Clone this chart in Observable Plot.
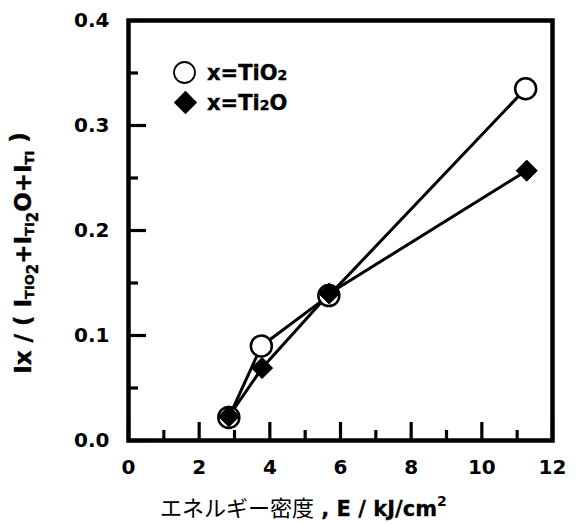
<!DOCTYPE html>
<html><head><meta charset="utf-8">
<script src="https://cdn.jsdelivr.net/npm/d3@7"></script>
<script src="https://cdn.jsdelivr.net/npm/@observablehq/plot@0.6"></script>
<style>body{margin:0;background:#fff}</style>
</head><body><div id="chart"></div>
<script>
const energyTiO2 = [2.84, 3.76, 5.67, 11.24];
const valueTiO2  = [0.022, 0.090, 0.138, 0.335];
const energyTi2O = [2.84, 3.78, 5.68, 11.27];
const valueTi2O  = [0.023, 0.069, 0.140, 0.257];
const xTicks = [0, 2, 4, 6, 8, 10, 12];
const xMinor = [1, 3, 5, 7, 9, 11];
const yTicks = [0, 0.1, 0.2, 0.3, 0.4];
const yMinor = [0.05, 0.15, 0.25, 0.35];

const tio2 = energyTiO2.map((e, i) => ({e, v: valueTiO2[i]}));
const ti2o = energyTi2O.map((e, i) => ({e, v: valueTi2O[i]}));

const boldFont = "DejaVu Sans, Verdana, sans-serif";
const plot = Plot.plot({
  width: 576, height: 524,
  marginLeft: 128, marginRight: 24, marginTop: 20, marginBottom: 84,
  style: {fontFamily: boldFont, background: "white", overflow: "visible"},
  x: {domain: [0, 12]},
  y: {domain: [0, 0.4]},
  marks: [
    Plot.axisX(xTicks, {tickSize: -18, strokeWidth: 3.2, tickFormat: () => "", label: null}),
    Plot.axisX(xMinor, {tickSize: -10, strokeWidth: 3.2, tickFormat: () => "", label: null}),
    Plot.axisX(xTicks, {tickSize: 0, tickPadding: 19, fontSize: 20, fontWeight: "bold", fontFamily: boldFont, label: null, fill: "black", stroke: "black", strokeWidth: 0.4}),
    Plot.axisY(yTicks, {tickSize: -18, strokeWidth: 3.2, tickFormat: () => "", label: null}),
    Plot.axisY(yMinor, {tickSize: -10, strokeWidth: 3.2, tickFormat: () => "", label: null}),
    Plot.axisY(yTicks, {tickSize: 0, tickPadding: 19, fontSize: 20, fontWeight: "bold", fontFamily: boldFont, tickFormat: ".1f", label: null, fill: "black", stroke: "black", strokeWidth: 0.4}),
    Plot.frame({stroke: "black", strokeWidth: 4.5}),
    Plot.line(tio2, {x: "e", y: "v", stroke: "black", strokeWidth: 3}),
    Plot.line(ti2o, {x: "e", y: "v", stroke: "black", strokeWidth: 3}),
    Plot.dot(tio2, {x: "e", y: "v", r: 10.5, fill: "white", stroke: "black", strokeWidth: 2.5}),
    Plot.dot(ti2o, {x: "e", y: "v", r: 9.5, symbol: "diamond2", fill: "black", stroke: "black", strokeWidth: 1}),
    Plot.dot([0], {frameAnchor: "top-left", dx: 56, dy: 52, r: 10.5, fill: "white", stroke: "black", strokeWidth: 1.8}),
    Plot.dot([0], {frameAnchor: "top-left", dx: 57, dy: 82, r: 10.5, symbol: "diamond2", fill: "black"})
  ]
});
document.getElementById("chart").appendChild(plot);

(function () {
  const svg = d3.select(plot);
  const xr = plot.scale("x").range, yr = plot.scale("y").range;
  const pl = xr[0], pt = yr[1];

  function legendText(y, parts) {
    const t = svg.append("text").attr("x", pl + 79).attr("y", y).attr("text-anchor", "start")
      .attr("font-family", boldFont).attr("font-weight", "bold").attr("font-size", 21)
      .attr("fill", "black").attr("stroke", "black").attr("stroke-width", 0.4);
    parts.forEach(([s, small]) => {
      const ts = t.append("tspan").text(s);
      if (small) ts.attr("font-size", 14);
    });
  }
  legendText(pt + 60, [["x=TiO", false], ["2", true]]);
  legendText(pt + 90, [["x=Ti", false], ["2", true], ["O", false]]);

  const yl = svg.append("text")
    .attr("transform", `translate(31,253) rotate(-90)`)
    .attr("text-anchor", "middle").attr("font-family", boldFont).attr("font-weight", "bold")
    .attr("font-size", 23).attr("fill", "black").attr("stroke", "black").attr("stroke-width", 0.4);
  const yparts = [["Ix / ( I", 0], ["TIO", 1], ["2", 2], ["+I", 3], ["TI", 1], ["2", 2], ["O+I", 3], ["TI", 1], [" )", 3]];
  yparts.forEach(([s, k]) => {
    const ts = yl.append("tspan").text(s);
    if (k === 1) ts.attr("font-size", 13).attr("dy", 3);
    if (k === 2) ts.attr("font-size", 15).attr("dy", 4);
    if (k === 3) ts.attr("dy", -7);
  });

  const xl = svg.append("text")
    .attr("x", 160).attr("y", 516)
    .attr("text-anchor", "start").attr("fill", "black");
  xl.append("tspan").text("エネルギー密度").attr("font-family", "Noto Sans CJK JP").attr("font-weight", "normal").attr("font-size", 22);
  xl.append("tspan").text("\u00a0, E / kJ/cm").attr("font-family", boldFont).attr("font-weight", "bold").attr("font-size", 21).attr("stroke", "black").attr("stroke-width", 0.3);
  xl.append("tspan").text("2").attr("font-family", boldFont).attr("font-weight", "bold").attr("font-size", 14).attr("dy", -10);
})();
</script>
</body></html>
